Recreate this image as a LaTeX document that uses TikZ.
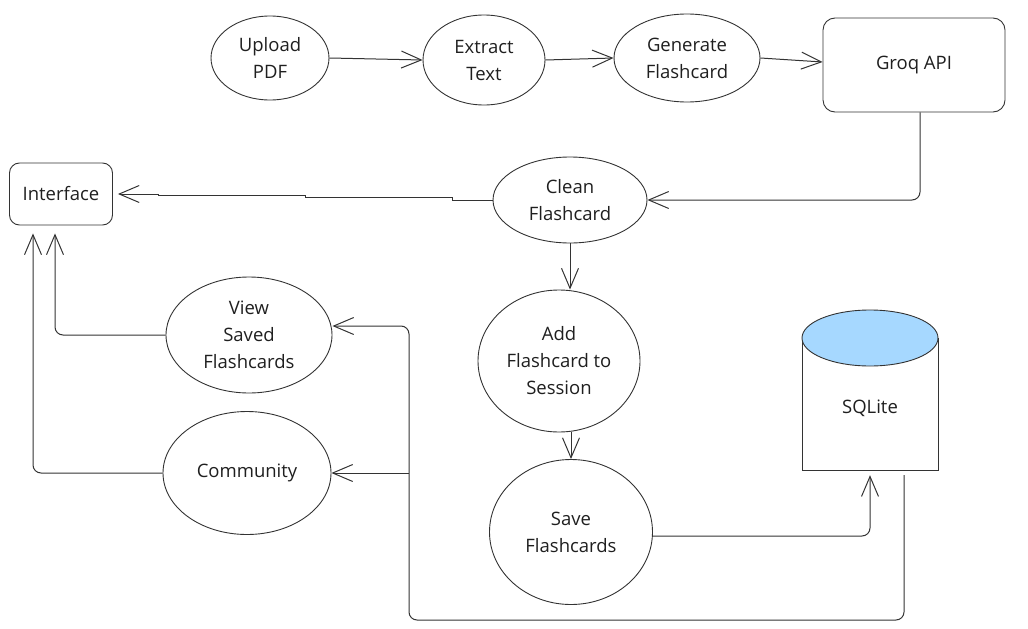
\documentclass[tikz,border=0pt]{standalone}
\usepackage{fontspec}
\setmainfont{Open Sans}
\usetikzlibrary{shapes.geometric,arrows.meta,calc}
\definecolor{ln}{HTML}{333333}
\definecolor{dbblue}{HTML}{A6D8FF}
\tikzset{
  ell/.style={ellipse,draw=ln,line width=0.9pt,inner sep=0pt,align=center,font=\fontsize{18.5}{27}\selectfont,text=black!88},
  rbox/.style={rectangle,rounded corners=12pt,draw=ln,line width=0.9pt,inner sep=0pt,align=center,font=\fontsize{18.5}{27}\selectfont,text=black!88},
  arr/.style={draw=ln,line width=1pt,-{Straight Barb[length=20pt,width=17pt,line width=1pt]}},
  lbl/.style={font=\fontsize{18.5}{27}\selectfont,text=black!88}
}
\begin{document}
\begin{tikzpicture}[x=1pt,y=-1pt]
\useasboundingbox (0,0) rectangle (1028,629);
% nodes
\node[ell,minimum width=118,minimum height=84] (up) at (270,58) {Upload\\PDF};
\node[ell,minimum width=122,minimum height=90] (ex) at (484,60) {Extract\\Text};
\node[ell,minimum width=146,minimum height=88] (gen) at (687,58) {Generate\\Flashcard};
\node[rbox,minimum width=182,minimum height=94] (groq) at (914,65) {Groq API};
\node[ell,minimum width=154,minimum height=86] (clean) at (570,200) {Clean\\Flashcard};
\node[rbox,minimum width=103,minimum height=62,rounded corners=10pt] (intf) at (61,194) {Interface};
\node[ell,minimum width=162,minimum height=142] (add) at (559,361) {Add\\Flashcard to\\Session};
\node[ell,minimum width=163,minimum height=145] (save) at (571,532) {Save\\Flashcards};
\node[ell,minimum width=166,minimum height=116] (view) at (249,335) {View\\Saved\\Flashcards};
\node[ell,minimum width=168,minimum height=123] (comm) at (247,473) {Community};
% SQLite cylinder
\node[minimum width=136,minimum height=160,inner sep=0pt] (sql) at (870,390) {};
\draw[ln,line width=0.9pt,fill=white] (802,338) -- (802,470) -- (938,470) -- (938,338);
\draw[ln,line width=0.9pt,fill=dbblue] (870,338) ellipse [x radius=68,y radius=28];
\node[lbl] (sqltxt) at (870,408) {SQLite};
% connectors
\draw[arr] (up.east) -- (ex.west);
\draw[arr] (ex.east) -- (gen.west);
\draw[arr] (gen.east) -- ($(groq.west)+(0,-3)$);
\draw[arr,rounded corners=8pt] ($(groq.south)+(6,0)$) |- (clean.east);
\draw[arr] (clean.west) -- (452,200) -- (452,197) -- (305,197) -- (305,195) -- (158,195) -- (158,194) -- ([xshift=5pt]intf.east);
\draw[arr] (clean.south) -- (clean.south |- add.north);
\draw[arr] (save.north |- add.south) -- (save.north);
\draw[arr,rounded corners=8pt] ($(save.east)+(0,4)$) -| ($(sql.south)+(0,5)$);
\coordinate (j) at (409,473);
\draw[arr,rounded corners=8pt] ($(sql.south)+(34,5)$) |- (409,620) -- (409,326) -- ($(view.east)+(0,-9)$);
\draw[arr] (j) -- (comm.east);
\draw[arr,rounded corners=8pt] (view.west) -| ($(intf.south)+(-6,8)$);
\draw[arr,rounded corners=8pt] (comm.west) -| ($(intf.south)+(-28,8)$);
\end{tikzpicture}
\end{document}
